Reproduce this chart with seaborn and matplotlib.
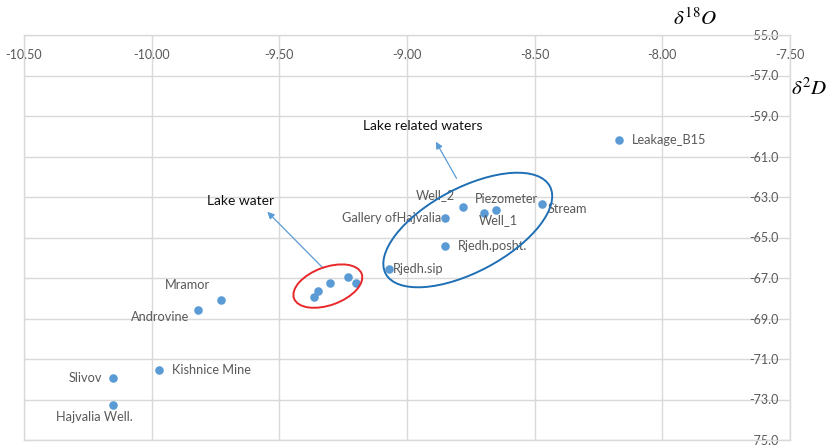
import matplotlib
matplotlib.use("Agg")
import matplotlib.pyplot as plt
import matplotlib.transforms as mtransforms
from matplotlib.patches import Ellipse
import seaborn as sns
import pandas as pd

# ---- data ----
names = ["Leakage_B15", "Stream", "Piezometer", "Well_1", "Well_2",
         "Gallery ofHajvalia", "Rjedh.posht.", "Rjedh.sip",
         "", "", "", "", "",
         "Mramor", "Androvine", "Kishnice Mine", "Slivov", "Hajvalia Well."]
d18O = [-8.17, -8.47, -8.65, -8.70, -8.78,
        -8.85, -8.85, -9.07,
        -9.23, -9.20, -9.30, -9.35, -9.365,
        -9.73, -9.82, -9.97, -10.15, -10.15]
d2H = [-60.17, -63.33, -63.64, -63.81, -63.51,
       -64.02, -65.40, -66.54,
       -66.95, -67.23, -67.26, -67.63, -67.92,
       -68.10, -68.58, -71.54, -71.94, -73.27]
# label offsets in pixels (dx, dy), horizontal alignment
label_dx = [13, 5, 10, 15, -28, -4, 13, 4, 0, 0, 0, 0, 0, -33, -38, 13, -11, -19]
label_dy = [0, -5, 11, -7, 12, 0, 0, 0, 0, 0, 0, 0, 0, 15, -7, 0, 0, -12]
label_ha = ["left", "left", "center", "center", "center", "right", "left", "left",
            "left", "left", "left", "left", "left",
            "center", "center", "left", "right", "center"]

x_ticks = [-10.5, -10.0, -9.5, -9.0, -8.5, -8.0, -7.5]
y_ticks = [-55, -57, -59, -61, -63, -65, -67, -69, -71, -73, -75]

df = pd.DataFrame({"name": names, "d18O": d18O, "d2H": d2H})

sns.set_theme(style="white")
plt.rcParams["font.family"] = ["Lato", "DejaVu Sans"]
plt.rcParams["mathtext.fontset"] = "stix"

GRAY = "#595959"
GRID = "#d9d9d9"
BLUE = "#5B9BD5"

fig = plt.figure(figsize=(8.29, 4.45), dpi=100)
ax = fig.add_axes([24 / 829, 5 / 445, 766 / 829, 405 / 445])

sns.scatterplot(data=df, x="d18O", y="d2H", ax=ax, color=BLUE, s=38,
                linewidth=0, zorder=5, clip_on=False)

ax.set_xlim(-10.5, -7.5)
ax.set_ylim(-75, -55)
ax.set_xticks(x_ticks)
ax.set_xticklabels([f"{v:.2f}" for v in x_ticks])
ax.set_yticks(y_ticks)
ax.set_yticklabels([f"{v:.1f}" for v in y_ticks], ha="right")
ax.xaxis.tick_top()
ax.yaxis.tick_right()
ax.tick_params(axis="x", length=0, pad=-19, labelsize=9, labelcolor=GRAY)
ax.tick_params(axis="y", length=0, pad=-8.5, labelsize=9, labelcolor=GRAY)
ax.set_xlabel("")
ax.set_ylabel("")
ax.grid(True, color=GRID, linewidth=1)
for sp in ax.spines.values():
    sp.set_color(GRID)
    sp.set_linewidth(1)

for n, x, y, dx, dy, ha in zip(names, d18O, d2H, label_dx, label_dy, label_ha):
    if n:
        ax.annotate(n, (x, y), xytext=(dx, dy), textcoords="offset pixels",
                    ha=ha, va="center", fontsize=9.2, color=GRAY, zorder=6)

# annotations with arrows
ax.annotate("", xy=(-9.547, -63.73), xytext=(-9.328, -66.52),
            arrowprops=dict(arrowstyle="-|>", color=BLUE, lw=0.9,
                            mutation_scale=10, shrinkA=0, shrinkB=0))
ax.text(-9.651, -63.18, "Lake water", ha="center", va="center",
        fontsize=10, color="#111111")
ax.annotate("", xy=(-8.887, -60.27), xytext=(-8.806, -62.08),
            arrowprops=dict(arrowstyle="-|>", color=BLUE, lw=0.9,
                            mutation_scale=10, shrinkA=0, shrinkB=0))
ax.text(-8.940, -59.49, "Lake related waters", ha="center", va="center",
        fontsize=10, color="#111111")

# ellipses drawn in pixel space around data centres
def draw_ellipse(cx, cy, a, b, ang, color):
    px, py = ax.transData.transform((cx, cy))
    tr = mtransforms.Affine2D().rotate_deg(ang).translate(px, py)
    e = Ellipse((0, 0), 2 * a, 2 * b, fill=False, edgecolor=color, lw=1.4,
                transform=tr, zorder=4)
    fig.add_artist(e)

draw_ellipse(-9.310, -67.40, 36, 19, 20, "#E8282B")
draw_ellipse(-8.762, -64.63, 93, 42, 28, "#1F6FB5")

# axis titles
fig.text(695 / 829, 1 - 18 / 445, r"$\delta^{18}O$", ha="center", va="center",
         fontsize=15, color="black")
fig.text(809 / 829, 1 - 88 / 445, r"$\delta^{2}D$", ha="center", va="center",
         fontsize=15, color="black")

fig.savefig("out.png", dpi=100)
